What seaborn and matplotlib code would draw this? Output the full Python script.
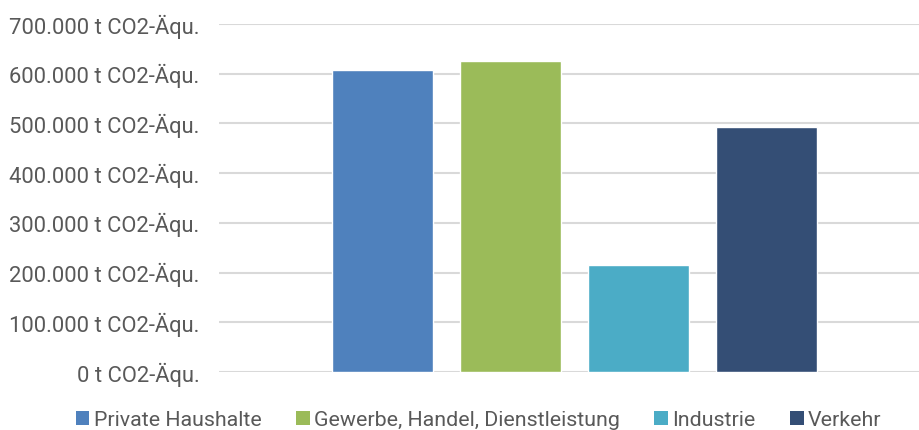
import matplotlib
matplotlib.use("Agg")
import matplotlib.pyplot as plt
import seaborn as sns
import pandas as pd
from matplotlib.patches import Patch

# Emissionen nach Sektoren (t CO2-Äquivalente)
sektoren = ["Private Haushalte", "Gewerbe, Handel, Dienstleistung", "Industrie", "Verkehr"]
emissionen = [608000, 626000, 216000, 492000]
farben = ["#4F81BD", "#9BBB59", "#4BACC6", "#344E75"]
y_ticks = [0, 100000, 200000, 300000, 400000, 500000, 600000, 700000]
y_labels = ["0 t CO2-Äqu.", "100.000 t CO2-Äqu.", "200.000 t CO2-Äqu.",
            "300.000 t CO2-Äqu.", "400.000 t CO2-Äqu.", "500.000 t CO2-Äqu.",
            "600.000 t CO2-Äqu.", "700.000 t CO2-Äqu."]

df = pd.DataFrame({"Gruppe": [""] * len(sektoren), "Sektor": sektoren, "Wert": emissionen})

sns.set_theme(style="white")
plt.rcParams["font.family"] = ["Roboto", "DejaVu Sans"]
text_farbe = "#595959"

fig = plt.figure(figsize=(9.2, 4.3), dpi=100)
ax = fig.add_axes([219 / 920, (430 - 372) / 430, (920 - 219) / 920, (372 - 24) / 430])

sns.barplot(data=df, x="Gruppe", y="Wert", hue="Sektor", hue_order=sektoren,
            palette=farben, width=0.8, gap=0.21, saturation=1, legend=False, ax=ax,
            zorder=3)

ax.set_xlim(-(574.5 - 219) / 640, (920 - 574.5) / 640)
ax.set_ylim(0, 700000)
ax.set_yticks(y_ticks)
ax.set_yticklabels(y_labels)
ax.set_xticks([])
ax.set_xlabel("")
ax.set_ylabel("")
ax.yaxis.grid(True, color="#D9D9D9", linewidth=1.5)
ax.set_axisbelow(True)
ax.tick_params(axis="y", length=0, pad=14, labelsize=15.8, labelcolor=text_farbe)
for s in ax.spines.values():
    s.set_visible(False)

handles = [Patch(facecolor=c, edgecolor="none") for c in farben]
fig.legend(handles, sektoren, loc="center", bbox_to_anchor=(0.520, 0.023), ncol=4,
           frameon=False, fontsize=15.4, labelcolor=text_farbe, handlelength=0.65,
           handleheight=0.65, handletextpad=0.2, columnspacing=1.6,
           borderpad=0, borderaxespad=0)

fig.savefig("out.png", dpi=100)
